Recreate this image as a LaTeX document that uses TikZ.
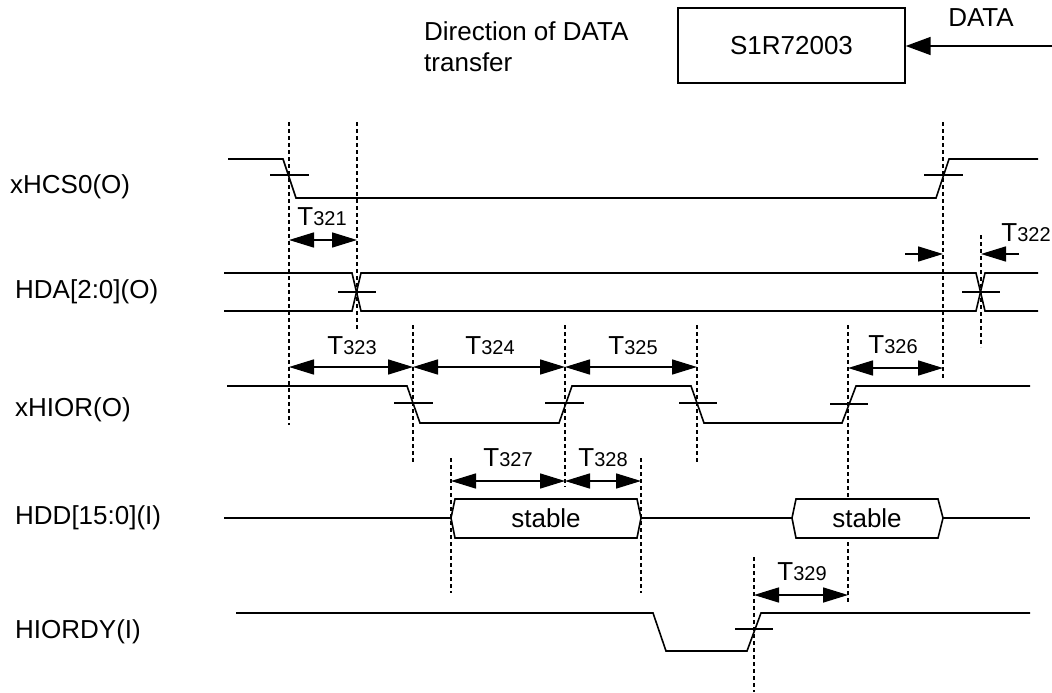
\documentclass[tikz,border=0pt]{standalone}
\usepackage{fontspec}
\setmainfont{Liberation Sans}
\usetikzlibrary{arrows.meta}
\newcommand{\Tsub}[1]{T{\fontsize{20}{22}\selectfont #1}}

\begin{document}
\begin{tikzpicture}[x=1pt, y=-1pt,
  sig/.style={line width=1.6pt},
  guide/.style={line width=1.2pt, dash pattern=on 4pt off 3pt},
  edgetick/.style={line width=1.4pt},
  dimarr/.style={{Triangle[length=25pt,width=15pt]}-{Triangle[length=25pt,width=15pt]}, line width=1.6pt},
  onearr/.style={-{Triangle[length=25pt,width=15pt]}, line width=1.6pt},
  lbl/.style={font=\fontsize{26}{31}\selectfont, inner sep=0pt}]
\useasboundingbox (0,0) rectangle (1052,693);

% Direction of transfer
\node[lbl, anchor=west, align=left] (dir) at (424,47) {Direction of DATA\\transfer};
\node[draw, line width=1.4pt, minimum width=227pt, minimum height=75pt, font=\fontsize{26}{31}\selectfont] (chip) at (791.5,45.5) {S1R72003};
\coordinate (src) at (1052,46);
\draw[-{Triangle[length=25pt,width=18pt]}, line width=1.6pt] (src) -- (src -| chip.east);
\node[lbl] (datalbl) at (981,18) {DATA};

% Signal names
\node[lbl, anchor=west] (ncs) at (10,187) {xHCS0(O)};
\node[lbl, anchor=west] (nda) at (15,292) {HDA[2:0](O)};
\node[lbl, anchor=west] (nior) at (15,410) {xHIOR(O)};
\node[lbl, anchor=west] (ndd) at (15,518) {HDD[15:0](I)};
\node[lbl, anchor=west] (nrdy) at (15,632) {HIORDY(I)};

% Guide lines
\draw[guide] (289,122) -- (289,425);
\draw[guide] (357,122) -- (357,330);
\draw[guide] (943,122) -- (943,378);
\draw[guide] (981,235) -- (981,347);
\draw[guide] (413,325) -- (413,462);
\draw[guide] (565,325) -- (565,487);
\draw[guide] (697,325) -- (697,462);
\draw[guide] (848,325) -- (848,603);
\draw[guide] (451,458) -- (451,593);
\draw[guide] (641,458) -- (641,593);
\draw[guide] (754,557) -- (754,692);

% xHCS0
\draw[sig] (228,159) -- (283,159) -- (296,198) -- (936,198) -- (949,159) -- (1038,159);
\draw[edgetick] (270,175) -- (309,175);
\draw[edgetick] (924,175) -- (963,175);

% HDA[2:0]
\draw[sig] (224,273) -- (352,273) -- (361,311) -- (976,311) -- (985,273) -- (1038,273);
\draw[sig] (224,311) -- (352,311) -- (361,273) -- (976,273) -- (985,311) -- (1038,311);
\draw[edgetick] (338,292) -- (376,292);
\draw[edgetick] (962,292) -- (1000,292);

% xHIOR
\draw[sig] (227,386) -- (407,386) -- (420,423) -- (559,423) -- (572,386) -- (691,386)
  -- (704,423) -- (842,423) -- (856,386) -- (1030,386);
\draw[edgetick] (394,403) -- (433,403);
\draw[edgetick] (545,403) -- (584,403);
\draw[edgetick] (679,403) -- (717,403);
\draw[edgetick] (830,404) -- (868,404);

% HDD[15:0]
\draw[sig] (224,518) -- (451,518);
\draw[sig, fill=white] (451,518) -- (455,499) -- (637,499) -- (641,518) -- (637,538) -- (455,538) -- cycle;
\draw[sig] (641,518) -- (792,518);
\draw[sig, fill=white] (792,518) -- (796,499) -- (938,499) -- (943,518) -- (938,538) -- (796,538) -- cycle;
\draw[sig] (943,518) -- (1030,518);
\node[lbl] (st1) at (546,518) {stable};
\node[lbl] (st2) at (867,518) {stable};

% HIORDY
\draw[sig] (236,613) -- (653,613) -- (666,651) -- (747,651) -- (761,613) -- (1030,613);
\draw[edgetick] (735,629) -- (773,629);

% Timing arrows
\draw[dimarr] (289,240) -- (357,240);
\node[lbl] (t321) at (322,217) {\Tsub{321}};
\draw[onearr] (905,254) -- (943,254);
\draw[onearr] (1019,254) -- (981,254);
\node[lbl] (t322) at (1026,233) {\Tsub{322}};
\draw[dimarr] (289,367) -- (413,367);
\node[lbl] (t323) at (352,346) {\Tsub{323}};
\draw[dimarr] (413,367) -- (565,367);
\node[lbl] (t324) at (490,346) {\Tsub{324}};
\draw[dimarr] (565,367) -- (697,367);
\node[lbl] (t325) at (633,346) {\Tsub{325}};
\draw[dimarr] (848,368) -- (943,368);
\node[lbl] (t326) at (893,345) {\Tsub{326}};
\draw[dimarr] (451,481) -- (565,481);
\node[lbl] (t327) at (508,458) {\Tsub{327}};
\draw[dimarr] (565,481) -- (641,481);
\node[lbl] (t328) at (603,458) {\Tsub{328}};
\draw[dimarr] (754,595) -- (848,595);
\node[lbl] (t329) at (802,572) {\Tsub{329}};
\end{tikzpicture}
\end{document}
